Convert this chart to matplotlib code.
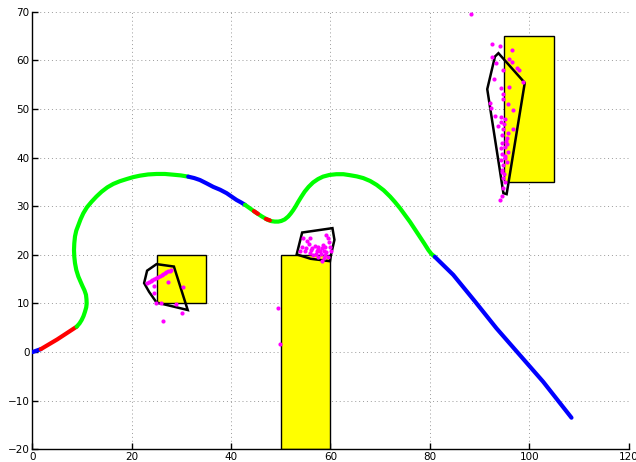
import matplotlib
matplotlib.use("Agg")
import matplotlib.pyplot as plt
from matplotlib.patches import Rectangle, Polygon

# Vehicle trajectory, split into coloured pieces (x, y)
traj_blue_start = [(0.0, 0.0), (1.7, 0.6)]
traj_red_start = [(1.7, 0.6), (5.0, 2.6), (8.93, 5.23)]
traj_green_1 = [(8.93, 5.23), (9.5, 5.9), (9.93, 6.6), (10.3, 7.4), (10.6, 8.3),
                (10.85, 9.2), (10.94, 10.0), (10.9, 10.9), (10.8, 11.8), (10.5, 12.7),
                (10.13, 13.5), (9.7, 14.5), (9.26, 15.55), (8.85, 16.9), (8.59, 18.3),
                (8.45, 19.6), (8.39, 21.0), (8.45, 22.4), (8.59, 23.8), (8.85, 25.0),
                (9.26, 26.1), (9.7, 27.3), (10.26, 28.55), (11.0, 29.8), (11.94, 30.95),
                (12.9, 32.0), (13.95, 33.0), (15.1, 33.9), (16.3, 34.6), (17.6, 35.15),
                (18.98, 35.6), (20.3, 36.0), (21.66, 36.3), (23.3, 36.55), (25.0, 36.65),
                (26.7, 36.65), (28.36, 36.5), (29.9, 36.35), (31.37, 36.1)]
traj_blue_1 = [(31.37, 36.1), (32.6, 35.8), (33.74, 35.4), (35.1, 34.7), (36.4, 34.0),
               (37.8, 33.4), (39.1, 32.7), (40.1, 32.0), (41.1, 31.3), (42.0, 30.8),
               (42.8, 30.3)]
traj_green_2 = [(42.8, 30.3), (43.9, 29.5), (45.0, 28.7), (46.2, 27.9), (47.4, 27.2),
                (48.1, 26.95), (48.8, 26.85), (49.5, 26.85), (50.1, 26.98), (50.8, 27.3),
                (51.5, 27.9), (52.0, 28.5), (52.5, 29.2), (53.0, 30.0), (53.5, 30.9),
                (54.1, 31.9), (54.8, 33.0), (55.6, 34.0), (56.5, 34.9), (57.5, 35.6),
                (58.5, 36.1), (59.8, 36.45), (61.2, 36.6), (62.6, 36.6), (63.9, 36.4),
                (65.3, 36.15), (66.6, 35.8), (68.0, 35.2), (69.3, 34.4), (70.7, 33.3),
                (72.0, 32.0), (73.0, 30.85), (74.0, 29.6), (75.0, 28.2), (76.0, 26.8),
                (77.0, 25.25), (78.0, 23.7), (78.9, 22.3), (79.7, 21.0), (80.3, 20.2),
                (81.0, 19.6)]
traj_red_marks = [[(44.6, 29.0), (45.4, 28.45)], [(47.0, 27.4), (47.8, 27.1)]]
traj_blue_end = [(81.0, 19.6), (84.7, 15.9), (89.1, 10.4), (93.4, 4.9), (98.1, -0.6),
                 (102.8, -6.1), (108.5, -13.5)]

# Obstacles: (x, y, width, height)
obstacles = [(25, 10, 10, 10), (50, -20, 10, 40), (95, 35, 10, 30)]

# Convex hulls around detected clusters
hull_a = [(25.0, 18.1), (28.5, 17.6), (31.27, 8.66), (25.0, 10.2), (23.5, 12.4),
          (22.5, 14.2), (23.1, 16.75)]
hull_b = [(54.3, 24.6), (60.4, 25.5), (60.8, 23.1), (60.1, 20.0), (59.9, 18.7),
          (56.0, 19.2), (53.2, 20.1)]
hull_c = [(93.8, 61.5), (99.1, 55.4), (95.45, 32.5), (94.8, 32.7), (91.55, 54.1),
          (93.1, 60.8)]

# Sensor returns
pts_a_x = [23.0, 23.4, 23.8, 24.1, 24.5, 24.9, 25.3, 25.6, 26.0, 26.3, 26.7, 27.0,
           27.4, 27.7, 28.0, 27.4, 30.4, 24.5, 24.5, 24.9, 25.8, 30.06, 26.4, 29.0]
pts_a_y = [14.2, 14.4, 14.6, 14.8, 15.0, 15.2, 15.4, 15.6, 15.8, 16.0, 16.2, 16.4,
           16.6, 16.75, 16.9, 14.4, 13.3, 13.7, 12.2, 10.2, 10.0, 8.1, 6.4, 9.8]
pts_b_x = [54.5, 55.9, 55.3, 59.2, 59.6, 59.8, 54.2, 55.1, 56.2, 56.9, 57.5, 58.2,
           58.9, 59.9, 57.2, 57.9, 58.6, 59.2, 60.1, 53.9, 55.9, 56.5, 57.5, 58.6,
           58.2, 59.6, 54.9, 55.6, 57.0, 58.0, 59.0, 56.0, 57.4, 58.4, 49.5, 49.8]
pts_b_y = [23.4, 23.5, 22.9, 24.1, 23.4, 22.7, 21.7, 21.5, 21.4, 21.9, 21.7, 21.4,
           21.7, 21.7, 20.7, 20.7, 20.8, 20.5, 20.7, 20.7, 20.3, 20.0, 19.6, 19.4,
           18.7, 19.6, 20.7, 22.2, 20.2, 20.1, 20.0, 21.0, 21.2, 22.0, 9.0, 1.6]
pts_c_x = [92.55, 94.1, 96.5, 92.6, 93.3, 95.97, 96.6, 94.8, 97.6, 98.0, 92.9, 98.8,
           95.9, 94.25, 94.8, 92.1, 94.8, 95.8, 92.4, 93.2, 94.25, 95.1, 96.8, 94.3,
           93.8, 94.8, 96.8, 95.7, 94.45, 95.45, 94.45, 95.1, 94.25, 95.8, 94.6, 95.1,
           94.3, 95.45, 94.8, 94.6, 95.0, 94.8, 95.1, 94.65, 94.45, 94.1, 88.2, 95.3,
           94.9, 95.6, 94.5, 95.2]
pts_c_y = [63.3, 63.0, 62.2, 60.7, 59.4, 60.4, 59.6, 58.0, 58.4, 58.0, 56.2, 55.6,
           54.6, 54.3, 53.1, 51.2, 52.0, 51.0, 50.2, 48.6, 48.4, 48.0, 49.8, 47.4,
           46.5, 45.8, 46.0, 45.1, 44.7, 44.0, 43.0, 42.3, 41.9, 41.2, 40.8, 39.9,
           39.5, 39.2, 38.5, 37.5, 36.6, 35.8, 34.9, 33.7, 32.1, 31.2, 69.5, 43.5,
           47.0, 42.8, 37.0, 40.3]

fig = plt.figure(figsize=(6.36, 4.62), dpi=100)
ax = fig.add_axes([0.0508, 0.0275, 0.9376, 0.9468])
ax.set_xlim(0, 120)
ax.set_ylim(-20, 70)

for (x, y, w, h) in obstacles:
    ax.add_patch(Rectangle((x, y), w, h, facecolor="#ffff00", edgecolor="black",
                           linewidth=1.0, zorder=2))


def draw_piece(points, color):
    xs = [p[0] for p in points]
    ys = [p[1] for p in points]
    ax.plot(xs, ys, color=color, linewidth=3.0, solid_capstyle="round",
            solid_joinstyle="round", zorder=3)


draw_piece(traj_blue_start, "#0000ff")
draw_piece(traj_red_start, "#ff0000")
draw_piece(traj_green_1, "#00ff00")
draw_piece(traj_blue_1, "#0000ff")
draw_piece(traj_green_2, "#00ff00")
for seg in traj_red_marks:
    draw_piece(seg, "#ff0000")
draw_piece(traj_blue_end, "#0000ff")

for hull in (hull_a, hull_b, hull_c):
    ax.add_patch(Polygon(hull, closed=True, fill=False, edgecolor="black",
                         linewidth=1.8, zorder=4))

for xs, ys in ((pts_a_x, pts_a_y), (pts_b_x, pts_b_y), (pts_c_x, pts_c_y)):
    ax.plot(xs, ys, linestyle="none", marker="o", markersize=3.0,
            markerfacecolor="#ff00ff", markeredgewidth=0, zorder=5)

ax.set_xticks(range(0, 121, 20))
ax.set_yticks(range(-20, 71, 10))
ax.grid(True, color="#9a9a9a", linestyle=(0, (1, 3)), linewidth=0.7)
ax.set_axisbelow(True)
for side in ("top", "right"):
    ax.spines[side].set_visible(False)
for side in ("left", "bottom"):
    ax.spines[side].set_linewidth(1.0)
ax.tick_params(direction="in", length=4, width=1, labelsize=7.5, pad=2)

fig.savefig("out.png", dpi=100)
